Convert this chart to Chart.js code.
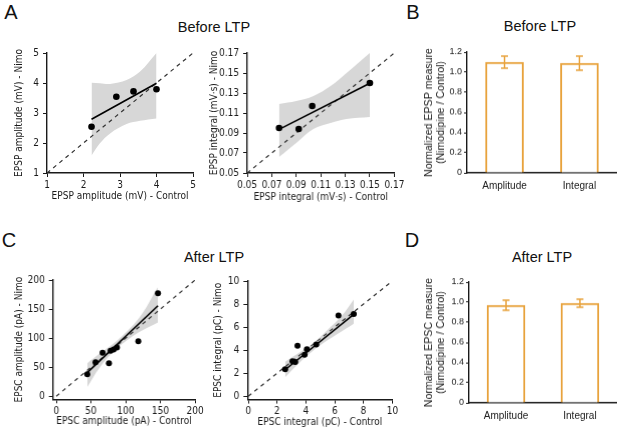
<!DOCTYPE html>
<html>
<head>
<meta charset="utf-8">
<script src="https://cdn.jsdelivr.net/npm/chart.js@4.4.1/dist/chart.umd.min.js"></script>
<style>
  body { margin: 0; background: #fff; width: 617px; height: 430px; position: relative; overflow: hidden;
         font-family: "Liberation Sans", Arial, sans-serif; }
  .box { position: absolute; }
  .lbl { position: absolute; color: #111; white-space: nowrap; transform: translate(-50%, -50%); }
  .letter { font-size: 20px; }
  .ttl { font-size: 14.5px; }
</style>
</head>
<body>
<div class="lbl letter" style="left:11px;top:12px">A</div>
<div class="lbl letter" style="left:413px;top:12px">B</div>
<div class="lbl letter" style="left:9px;top:240px">C</div>
<div class="lbl letter" style="left:412px;top:240px">D</div>
<div class="lbl ttl" style="left:214px;top:27px">Before LTP</div>
<div class="lbl ttl" style="left:540px;top:26px">Before LTP</div>
<div class="lbl ttl" style="left:214px;top:257px">After LTP</div>
<div class="lbl ttl" style="left:542px;top:257px">After LTP</div>

<div class="box" id="ampPre"><canvas id="ampPre-c"></canvas></div>
<div class="box" id="intPre"><canvas id="intPre-c"></canvas></div>
<div class="box" id="barPre"><canvas id="barPre-c"></canvas></div>
<div class="box" id="ampPost"><canvas id="ampPost-c"></canvas></div>
<div class="box" id="intPost"><canvas id="intPost-c"></canvas></div>
<div class="box" id="barPost"><canvas id="barPost-c"></canvas></div>

<script>
// A, before LTP: EPSP amplitude (mV), control vs nimodipine
const ampPreCtl = [2.22, 2.90, 3.37, 4.00];
const ampPreNimo = [2.54, 3.54, 3.72, 3.79];
const ampPreFitX = [2.22, 4.00];
const ampPreFitY = [2.79, 3.99];
const ampPreBandX = [2.22, 2.45, 2.73, 3.18, 3.55, 4.00];
const ampPreBandHi = [4.01, 3.99, 3.97, 4.10, 4.38, 5.00];
const ampPreBandLo = [1.58, 1.99, 2.32, 2.63, 2.74, 2.82];
const ampPreTicks = [1, 2, 3, 4, 5];

// A, before LTP: EPSP integral (mV·s)
const intPreCtl = [0.076, 0.092, 0.103, 0.150];
const intPreNimo = [0.095, 0.094, 0.117, 0.140];
const intPreFitX = [0.076, 0.150];
const intPreFitY = [0.0936, 0.1398];
const intPreBandX = [0.076, 0.090, 0.104, 0.118, 0.131, 0.150];
const intPreBandHi = [0.119, 0.122, 0.127, 0.137, 0.150, 0.170];
const intPreBandLo = [0.066, 0.080, 0.094, 0.100, 0.104, 0.106];
const intPreTicks = [0.05, 0.07, 0.09, 0.11, 0.13, 0.15, 0.17];

// C, after LTP: EPSC amplitude (pA)
const ampPostCtl = [44.7, 56.6, 66.7, 75.9, 78.3, 82.6, 87.4, 118.2, 146.5];
const ampPostNimo = [37.9, 58.6, 74.7, 56.9, 78.1, 80.5, 84.0, 94.8, 177.0];
const ampPostFitX = [44.7, 146.5];
const ampPostFitY = [40.8, 155.7];
const ampPostBandX = [44.7, 63, 87, 119, 146.5];
const ampPostBandHi = [57, 74, 95, 134, 188];
const ampPostBandLo = [16, 50, 82, 110, 127];
const ampPostTicks = [0, 50, 100, 150, 200];

// C, after LTP: EPSC integral (pC)
const intPostCtl = [2.56, 3.07, 3.26, 3.42, 3.91, 4.07, 4.72, 6.26, 7.32];
const intPostNimo = [2.34, 3.04, 2.98, 4.39, 3.61, 4.08, 4.48, 7.00, 7.14];
const intPostFitX = [2.56, 7.32];
const intPostFitY = [2.30, 7.10];
const intPostBandX = [2.56, 3.5, 4.5, 5.5, 6.5, 7.32];
const intPostBandHi = [3.00, 3.75, 4.60, 5.75, 7.00, 8.40];
const intPostBandLo = [1.65, 2.85, 3.95, 4.85, 5.65, 6.30];
const intPostTicks = [0, 2, 4, 6, 8, 10];

// B and D: normalized measure (Nimodipine / Control), mean and error
const barCats = ['Amplitude', 'Integral'];
const epspRatio = [1.10, 1.09];
const epspErr = [0.06, 0.07];
const epscRatio = [0.97, 0.99];
const epscErr = [0.05, 0.04];
const ratioTicks = [0, 0.2, 0.4, 0.6, 0.8, 1.0, 1.2];

const narrow = '"Liberation Sans Narrow", "DejaVu Sans Condensed", sans-serif';
const arial = '"Liberation Sans", Arial, sans-serif';
const ink = '#1a1a1a';
const orange = '#e8a33d';
const bandGrey = 'rgb(215,215,215)';
const clear = 'rgba(0,0,0,0)';

function pts(xs, ys) {
  return xs.map((x, i) => ({ x: x, y: ys[i] }));
}

// size the box so the plot area lands on plot, titles on their centre lines
function frame(id, plot, yTitleX, bottom, lh, padR, padT) {
  const left = yTitleX - lh / 2;
  const top = plot.t - padT;
  const el = document.getElementById(id);
  el.style.left = left + 'px';
  el.style.top = top + 'px';
  el.style.width = (plot.r + padR - left) + 'px';
  el.style.height = (bottom - top) + 'px';
  return { yw: plot.l - left, xh: bottom - plot.b, padR: padR, padT: padT };
}

function axis(ticks, min, fmt, title, fit, font, pad) {
  return {
    type: 'linear',
    min: min,
    max: ticks[ticks.length - 1],
    afterBuildTicks: s => { s.ticks = ticks.map(v => ({ value: v })); },
    afterFit: fit,
    border: { color: ink, width: 1.4 },
    grid: { drawOnChartArea: false, color: ink, tickLength: 4, lineWidth: 1 },
    ticks: { color: ink, font: { family: font, size: 10 }, padding: pad, autoSkip: false, maxRotation: 0, callback: fmt },
    title: { display: true, text: title, color: ink, font: { family: font, size: 10, lineHeight: 1.2 }, padding: 0 }
  };
}

function scatterPanel(id, f, d) {
  const t0 = d.ticks[0], t1 = d.ticks[d.ticks.length - 1];
  new Chart(document.getElementById(id + '-c'), {
    type: 'scatter',
    data: {
      datasets: [
        { data: pts(d.ctl, d.nimo), pointRadius: d.r, pointBackgroundColor: '#000', pointBorderWidth: 0, order: 0 },
        { data: pts(d.fitX, d.fitY), showLine: true, borderColor: '#000', borderWidth: 1.6, pointRadius: 0, order: 1 },
        { data: pts([t0, t1], [t0, t1]), showLine: true, borderColor: '#333', borderWidth: 1.2, borderDash: [4, 4], pointRadius: 0, order: 2 },
        { data: pts(d.bandX, d.bandHi), showLine: true, borderColor: clear, borderWidth: 0, pointRadius: 0,
          fill: '+1', backgroundColor: bandGrey, tension: 0.35, order: 3 },
        { data: pts(d.bandX, d.bandLo), showLine: true, borderColor: clear, borderWidth: 0, pointRadius: 0,
          fill: false, tension: 0.35, order: 4 }
      ]
    },
    options: {
      animation: false,
      responsive: true,
      maintainAspectRatio: false,
      layout: { padding: { top: f.padT, right: f.padR, left: 0, bottom: 0 } },
      plugins: { legend: { display: false }, tooltip: { enabled: false } },
      scales: {
        x: axis(d.ticks, d.xMin, d.fmt, d.xTitle, s => { s.height = f.xh; }, narrow, 2),
        y: axis(d.ticks, d.yMin, d.fmt, d.yTitle, s => { s.width = f.yw; }, narrow, 4)
      }
    }
  });
}

const errorBars = {
  id: 'errorBars',
  afterDatasetsDraw(chart) {
    const ctx = chart.ctx;
    const y = chart.scales.y;
    chart.data.datasets.forEach((ds, i) => {
      chart.getDatasetMeta(i).data.forEach((bar, j) => {
        const hi = y.getPixelForValue(ds.data[j] + ds.errs[j]);
        const lo = y.getPixelForValue(ds.data[j] - ds.errs[j]);
        ctx.save();
        ctx.strokeStyle = orange;
        ctx.lineWidth = 1.5;
        ctx.beginPath();
        ctx.moveTo(bar.x, hi); ctx.lineTo(bar.x, lo);
        ctx.moveTo(bar.x - 3.5, hi); ctx.lineTo(bar.x + 3.5, hi);
        ctx.moveTo(bar.x - 3.5, lo); ctx.lineTo(bar.x + 3.5, lo);
        ctx.stroke();
        ctx.restore();
      });
    });
  }
};

function barPanel(id, f, vals, errs, title) {
  const yAxis = axis(ratioTicks, 0, v => v === 0 ? '0' : v.toFixed(1), title, s => { s.width = f.yw; }, arial, 2);
  yAxis.ticks.font.size = 9;
  yAxis.grid.tickLength = 3;
  yAxis.title.font = { family: arial, size: 10.5, lineHeight: 1.12 };
  new Chart(document.getElementById(id + '-c'), {
    type: 'bar',
    data: {
      labels: barCats,
      datasets: [{ data: vals, errs: errs, backgroundColor: '#fff', borderColor: orange, borderWidth: 2, barThickness: 38 }]
    },
    options: {
      animation: false,
      responsive: true,
      maintainAspectRatio: false,
      layout: { padding: { top: f.padT, right: f.padR, left: 0, bottom: 0 } },
      plugins: { legend: { display: false }, tooltip: { enabled: false } },
      scales: {
        x: {
          afterFit: s => { s.height = f.xh; },
          border: { color: ink, width: 1.4 },
          grid: { display: false, drawTicks: false },
          ticks: { color: ink, font: { family: arial, size: 10 }, padding: 7 }
        },
        y: yAxis
      }
    },
    plugins: [errorBars]
  });
}

const lh = 12;
const two = v => v.toFixed(2);
const plain = v => String(v);

scatterPanel('ampPre', frame('ampPre', { l: 47, r: 193, t: 53, b: 173 }, 19, 202, lh, 8, 13), {
  ctl: ampPreCtl, nimo: ampPreNimo, fitX: ampPreFitX, fitY: ampPreFitY,
  bandX: ampPreBandX, bandHi: ampPreBandHi, bandLo: ampPreBandLo, ticks: ampPreTicks,
  xMin: 1, yMin: 1, fmt: plain, r: 3.3,
  xTitle: 'EPSP amplitude (mV) - Control', yTitle: 'EPSP amplitude (mV) - Nimo'
});

scatterPanel('intPre', frame('intPre', { l: 247.3, r: 393.7, t: 52.5, b: 172.5 }, 214.3, 202.5, lh, 14, 12), {
  ctl: intPreCtl, nimo: intPreNimo, fitX: intPreFitX, fitY: intPreFitY,
  bandX: intPreBandX, bandHi: intPreBandHi, bandLo: intPreBandLo, ticks: intPreTicks,
  xMin: 0.05, yMin: 0.05, fmt: two, r: 3.3,
  xTitle: 'EPSP integral (mV·s) - Control', yTitle: 'EPSP integral (mV·s) - Nimo'
});

scatterPanel('ampPost', frame('ampPost', { l: 52.7, r: 194.7, t: 279.7, b: 399 }, 19, 427.5, lh, 10, 10), {
  ctl: ampPostCtl, nimo: ampPostNimo, fitX: ampPostFitX, fitY: ampPostFitY,
  bandX: ampPostBandX, bandHi: ampPostBandHi, bandLo: ampPostBandLo, ticks: ampPostTicks,
  xMin: -4.8, yMin: -5.2, fmt: plain, r: 3,
  xTitle: 'EPSC amplitude (pA) - Control', yTitle: 'EPSC amplitude (pA) - Nimo'
});

scatterPanel('intPost', frame('intPost', { l: 247.6, r: 391.7, t: 280.7, b: 399.3 }, 218.3, 428, lh, 10, 10), {
  ctl: intPostCtl, nimo: intPostNimo, fitX: intPostFitX, fitY: intPostFitY,
  bandX: intPostBandX, bandHi: intPostBandHi, bandLo: intPostBandLo, ticks: intPostTicks,
  xMin: -0.05, yMin: -0.29, fmt: plain, r: 3,
  xTitle: 'EPSC integral (pC) - Control', yTitle: 'EPSC integral (pC) - Nimo'
});

barPanel('barPre', frame('barPre', { l: 466.7, r: 616.5, t: 52.3, b: 172.3 }, 428.5, 200, 11.76, 0.5, 12),
  epspRatio, epspErr, ['Normalized EPSP measure', '(Nimodipine / Control)']);

barPanel('barPost', frame('barPost', { l: 468.7, r: 616.5, t: 282.3, b: 402.3 }, 428.5, 429, 11.76, 0.5, 12),
  epscRatio, epscErr, ['Normalized EPSC measure', '(Nimodipine / Control)']);
</script>
</body>
</html>
